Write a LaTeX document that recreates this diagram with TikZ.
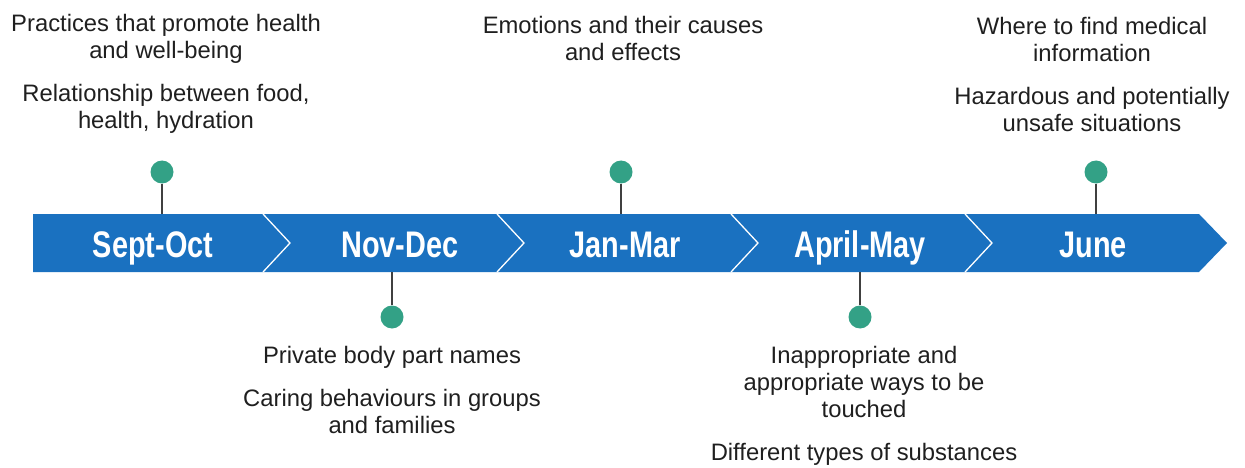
\documentclass[tikz,border=0pt]{standalone}
\usepackage{fontspec}
\setmainfont{Liberation Sans}
\newfontfamily\monthfont[FakeStretch=0.78]{Liberation Sans}
\usetikzlibrary{positioning}
\definecolor{bandblue}{RGB}{26,113,192}
\definecolor{dotgreen}{RGB}{51,161,134}

\begin{document}
\begin{tikzpicture}[x=1pt,y=-1pt,
  month/.style={text=white,font=\monthfont\bfseries\fontsize{37}{40}\selectfont,inner sep=0,anchor=base},
  topic/.style={align=center,font=\fontsize{23.8}{27}\selectfont,inner sep=0,text=black!88},
  pin/.style={circle,fill=dotgreen,minimum size=23pt,inner sep=0},
  stem/.style={draw=black!75,line width=1.3pt}]
\useasboundingbox (0,0) rectangle (1245,468);
% band with chevrons
\fill[bandblue] (33,214) -- (1199,214) -- (1227,243) -- (1199,272) -- (33,272) -- cycle;
\foreach \x in {263,497,731,965}
  \draw[white,line width=1.3pt] (\x,214) -- (\x+27,243) -- (\x,272);
\coordinate (bandtop) at (0,214);
\coordinate (bandbot) at (0,272);
% months
\node[month] (sep) at (153,257) {Sept-Oct};
\node[month] (nov) at (400,257) {Nov-Dec};
\node[month] (jan) at (625,257) {Jan-Mar};
\node[month] (apr) at (860,257) {April-May};
\node[month] (jun) at (1093,257) {June};
% pins
\node[pin] (psep) at (162,172) {};
\node[pin] (pnov) at (392,317) {};
\node[pin] (pjan) at (621,172) {};
\node[pin] (papr) at (860,317) {};
\node[pin] (pjun) at (1096,172) {};
\draw[stem] (psep) -- (psep |- bandtop);
\draw[stem] (pjan) -- (pjan |- bandtop);
\draw[stem] (pjun) -- (pjun |- bandtop);
\draw[stem] (pnov) -- (pnov |- bandbot);
\draw[stem] (papr) -- (papr |- bandbot);
% topics
\node[topic] (tsep) at (166,74) {Practices that promote health\\and well-being\\[16pt]Relationship between food,\\health, hydration};
\node[topic] (tjan) at (623,38) {Emotions and their causes\\and effects};
\node[topic] (tjun) at (1092,74) {Where to find medical\\information\\[16pt]Hazardous and potentially\\unsafe situations};
\node[topic] (tnov) at (392,390) {Private body part names\\[16pt]Caring behaviours in groups\\and families};
\node[topic] (tapr) at (864,406) {Inappropriate and\\appropriate ways to be\\touched\\[16pt]Different types of substances};
\end{tikzpicture}
\end{document}
